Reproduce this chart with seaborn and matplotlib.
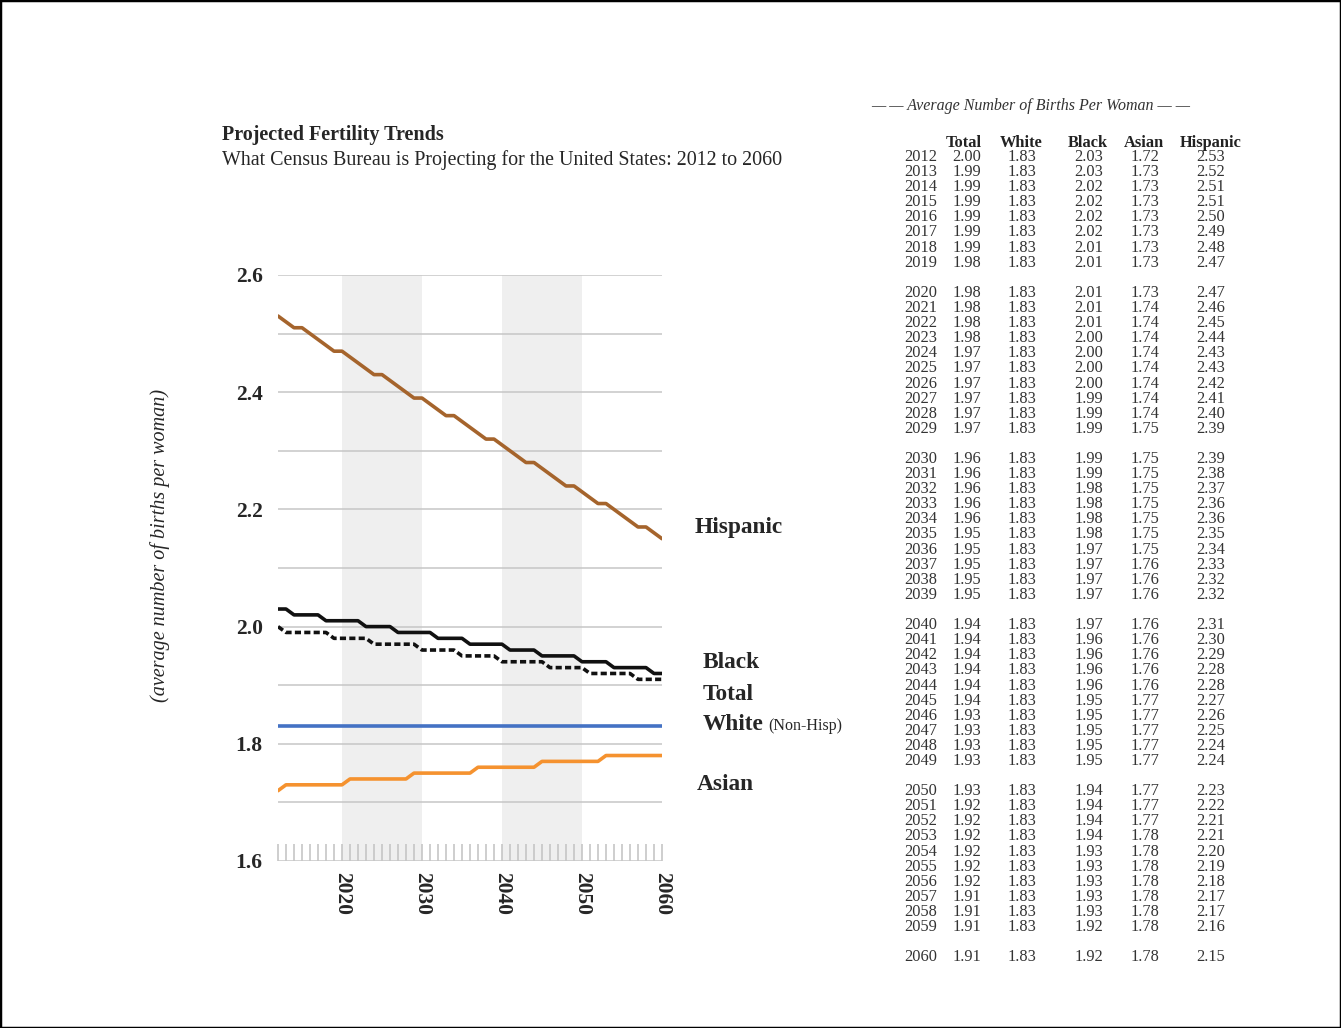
import matplotlib
matplotlib.use("Agg")
import matplotlib.pyplot as plt
from matplotlib.patches import Rectangle
from matplotlib.ticker import MultipleLocator, FixedLocator
import seaborn as sns
import pandas as pd
import numpy as np

years = list(range(2012, 2061))
total = [2.00, 1.99, 1.99, 1.99, 1.99, 1.99, 1.99, 1.98,
         1.98, 1.98, 1.98, 1.98, 1.97, 1.97, 1.97, 1.97, 1.97, 1.97,
         1.96, 1.96, 1.96, 1.96, 1.96, 1.95, 1.95, 1.95, 1.95, 1.95,
         1.94, 1.94, 1.94, 1.94, 1.94, 1.94, 1.93, 1.93, 1.93, 1.93,
         1.93, 1.92, 1.92, 1.92, 1.92, 1.92, 1.92, 1.91, 1.91, 1.91,
         1.91]
white = [1.83] * 49
black = [2.03, 2.03, 2.02, 2.02, 2.02, 2.02, 2.01, 2.01,
         2.01, 2.01, 2.01, 2.00, 2.00, 2.00, 2.00, 1.99, 1.99, 1.99,
         1.99, 1.99, 1.98, 1.98, 1.98, 1.98, 1.97, 1.97, 1.97, 1.97,
         1.97, 1.96, 1.96, 1.96, 1.96, 1.95, 1.95, 1.95, 1.95, 1.95,
         1.94, 1.94, 1.94, 1.94, 1.93, 1.93, 1.93, 1.93, 1.93, 1.92,
         1.92]
asian = [1.72, 1.73, 1.73, 1.73, 1.73, 1.73, 1.73, 1.73,
         1.73, 1.74, 1.74, 1.74, 1.74, 1.74, 1.74, 1.74, 1.74, 1.75,
         1.75, 1.75, 1.75, 1.75, 1.75, 1.75, 1.75, 1.76, 1.76, 1.76,
         1.76, 1.76, 1.76, 1.76, 1.76, 1.77, 1.77, 1.77, 1.77, 1.77,
         1.77, 1.77, 1.77, 1.78, 1.78, 1.78, 1.78, 1.78, 1.78, 1.78,
         1.78]
hispanic = [2.53, 2.52, 2.51, 2.51, 2.50, 2.49, 2.48, 2.47,
            2.47, 2.46, 2.45, 2.44, 2.43, 2.43, 2.42, 2.41, 2.40, 2.39,
            2.39, 2.38, 2.37, 2.36, 2.36, 2.35, 2.34, 2.33, 2.32, 2.32,
            2.31, 2.30, 2.29, 2.28, 2.28, 2.27, 2.26, 2.25, 2.24, 2.24,
            2.23, 2.22, 2.21, 2.21, 2.20, 2.19, 2.18, 2.17, 2.17, 2.16,
            2.15]
x_tick_labels = [2020, 2030, 2040, 2050, 2060]
y_tick_labels = [1.6, 1.8, 2.0, 2.2, 2.4, 2.6]
shaded_decades = [(2020, 2030), (2040, 2050)]

df = pd.DataFrame({"Year": years, "Total": total, "White": white,
                   "Black": black, "Asian": asian, "Hispanic": hispanic})

sns.set_theme(style="white")
plt.rcParams["font.family"] = ["Liberation Serif", "DejaVu Serif"]

W, H = 1341, 1028
fig = plt.figure(figsize=(W / 100, H / 100), dpi=100)

def fx(px):
    return px / W

def fy(py):
    return 1 - py / H

ax = fig.add_axes([fx(278), fy(861), fx(662) - fx(278), fy(275) - fy(861)])

for a, b in shaded_decades:
    ax.axvspan(a, b, color="#efefef", lw=0, zorder=0)

lw = 2.6
common = dict(ax=ax, lw=lw, solid_joinstyle="round", solid_capstyle="round")
sns.lineplot(data=df, x="Year", y="Hispanic", color="#a5642c", zorder=3, **common)
sns.lineplot(data=df, x="Year", y="Black", color="#111111", zorder=4, **common)
sns.lineplot(data=df, x="Year", y="Total", ax=ax, color="#111111", lw=lw,
             dashes=False, zorder=4)
ax.lines[-1].set_linestyle((0, (1.7, 0.9)))
ax.lines[-1].set_dash_capstyle("butt")
sns.lineplot(data=df, x="Year", y="White", color="#4472c4", zorder=3, **common)
sns.lineplot(data=df, x="Year", y="Asian", color="#f5922f", zorder=3, **common)

ax.set_xlim(years[0], years[-1])
ax.set_ylim(1.6, 2.6)
ax.set_xlabel("")
ax.set_ylabel("")
for s in ax.spines.values():
    s.set_visible(False)

ax.yaxis.set_major_locator(FixedLocator(y_tick_labels))
ax.yaxis.set_minor_locator(MultipleLocator(0.1))
ax.set_yticklabels([f"{v:.1f}" for v in y_tick_labels], fontsize=15.5, fontweight="bold")
ax.grid(True, which="both", axis="y", color="#c6c6c6", lw=1.1, zorder=1)
ax.grid(False, which="both", axis="x")
ax.tick_params(axis="y", which="both", length=0, pad=11, left=False)

ax.xaxis.set_major_locator(FixedLocator(x_tick_labels))
ax.xaxis.set_minor_locator(FixedLocator(years))
ax.set_xticklabels([str(v) for v in x_tick_labels], fontsize=15.5, fontweight="bold", rotation=270)
ax.tick_params(axis="x", which="both", direction="in", length=12, width=1.2, color="#c6c6c6",
               pad=8, bottom=True)

# Titles
fig.text(fx(222), fy(135), "Projected Fertility Trends", fontsize=14.5, fontweight="bold", va="center", ha="left")
fig.text(fx(222), fy(160), "What Census Bureau is Projecting for the United States: 2012 to 2060",
         fontsize=14.4, va="center", ha="left")
fig.text(fx(160), fy(545), "(average number of births per woman)", fontsize=14.5, style="italic",
         rotation=90, va="center", ha="center")

# Series labels
fig.text(fx(695), fy(527), "Hispanic", fontsize=16.8, fontweight="bold", va="center")
fig.text(fx(703), fy(663), "Black", fontsize=16.8, fontweight="bold", va="center")
fig.text(fx(703), fy(695), "Total", fontsize=16.8, fontweight="bold", va="center")
fig.text(fx(703), fy(724), "White", fontsize=16.8, fontweight="bold", va="center")
fig.text(fx(768), fy(726), "(Non-Hisp)", fontsize=11.5, va="center")
fig.text(fx(697), fy(785), "Asian", fontsize=16.8, fontweight="bold", va="center")

# Table
tc = "#333333"
fig.text(fx(1031), fy(106), "— — Average Number of Births Per Woman — —", fontsize=11.5, style="italic",
         color=tc, ha="center", va="center")
cols = ["Total", "White", "Black", "Asian", "Hispanic"]
head_x = [964, 1021, 1088, 1144, 1211]
val_x = [967, 1022, 1089, 1145, 1211]
for c, hx in zip(cols, head_x):
    fig.text(fx(hx), fy(143), c, fontsize=11.8, fontweight="bold", color="#222222", ha="center", va="center")
for i, yr in enumerate(years):
    g = (i + 2) // 10
    py = 157 + 15.1 * (i + g)
    fig.text(fx(937), fy(py), str(yr), fontsize=11.8, color=tc, ha="right", va="center")
    for c, vx in zip(cols, val_x):
        fig.text(fx(vx), fy(py), f"{df[c].iloc[i]:.2f}", fontsize=11.8, color=tc, ha="center", va="center")

fig.patches.append(Rectangle((0, 0), 1, 1, transform=fig.transFigure, fill=False,
                             edgecolor="black", lw=2.5))

fig.savefig("out.png", dpi=100)
